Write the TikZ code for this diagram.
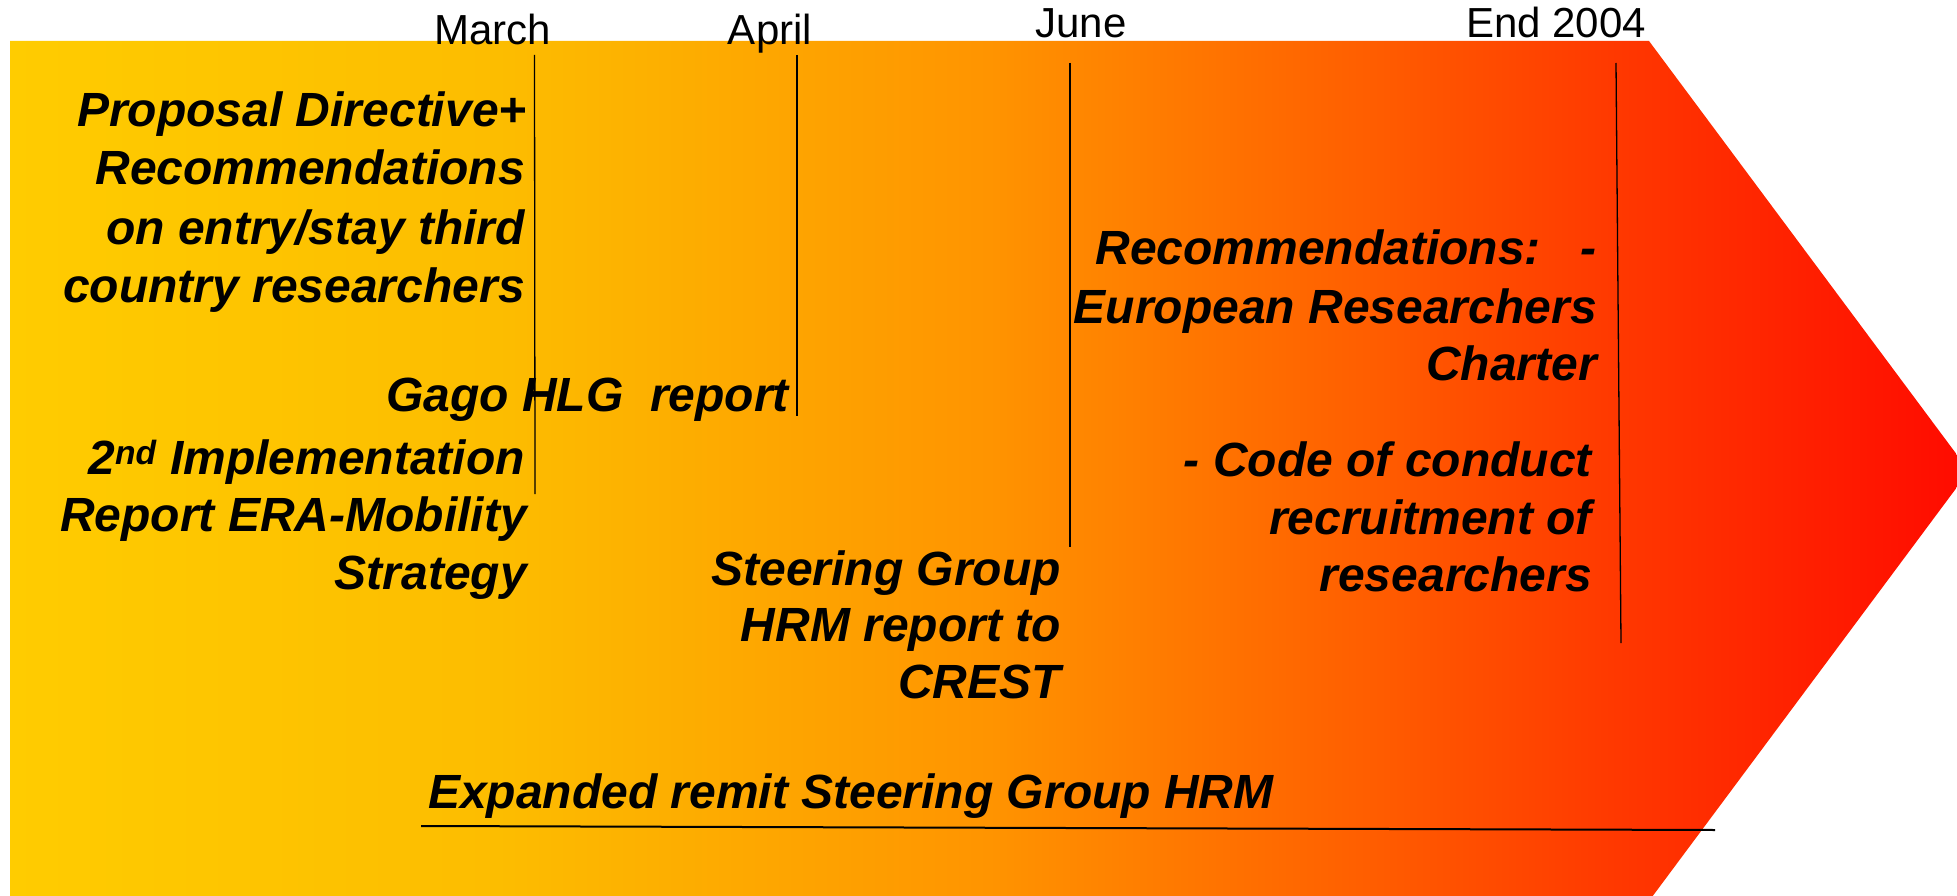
\documentclass[tikz,border=0pt]{standalone}
\usepackage{fontspec}
\setmainfont{Liberation Sans}
\pgfdeclarehorizontalshading{arrowshade}{100bp}{
 rgb(0bp)=(1,0.80,0);
 rgb(25bp)=(1,0.80,0);
 rgb(37.5bp)=(0.99,0.74,0);
 rgb(50bp)=(1,0.58,0);
 rgb(60bp)=(1,0.36,0);
 rgb(66bp)=(1,0.22,0);
 rgb(75bp)=(1,0.04,0);
 rgb(100bp)=(1,0.04,0)}
\tikzset{
 lbl/.style={font={\fontsize{48}{58}\selectfont\bfseries\itshape}, inner sep=0pt, anchor=base east},
 lblw/.style={font={\fontsize{48}{58}\selectfont\bfseries\itshape}, inner sep=0pt, anchor=base west},
 mon/.style={font={\fontsize{42}{50}\selectfont}, inner sep=0pt, anchor=base},
 tick/.style={line width=1.3pt, black},
 remit/.style={line width=2pt, black},
}
\begin{document}
\begin{tikzpicture}[x=1pt,y=-1pt]
\useasboundingbox (0,0) rectangle (1957,896);
\clip (0,0) rectangle (1957,896);
% arrow background
\shade[shading=arrowshade] (10,41) -- (1649,41) -- (1969,471) -- (1649,901) -- (10,901) -- cycle;

% month labels
\node[mon] (march) at (493,45) {March};
\node[mon] (april) at (770,45) {April};
\node[mon] (june) at (1081,38) {June};
\node[mon] (end) at (1556,38) {End 2004};

% tick lines
\coordinate (mT) at (534.5,55);  \coordinate (mB) at (535,494);
\coordinate (aT) at (797,55);    \coordinate (aB) at (797,416);
\coordinate (jT) at (1070,63);   \coordinate (jB) at (1070,547);
\coordinate (eT) at (1616,63);   \coordinate (eB) at (1621,643);
\draw[tick] (mT) -- (mB);
\draw[tick] (aT) -- (aB);
\draw[tick] (jT) -- (jB);
\draw[tick] (eT) -- (eB);

% block A
\node[lbl] (a1) at (527,127) {Proposal Directive+};
\node[lbl] (a2) at (525,185) {Recommendations};
\node[lbl] (a3) at (525,244) {on entry/stay third};
\node[lbl] (a4) at (525,302) {country researchers};

% Gago
\node[lbl] (g1) at (789,411) {Gago HLG\ \ report};

% block C
\node[lbl] (c1) at (525,474) {2\textsuperscript{nd} Implementation};
\node[lbl] (c2) at (527,531) {Report ERA-Mobility};
\node[lbl] (c3) at (527,589) {Strategy};

% block D
\node[lbl] (d1) at (1061,585) {Steering Group};
\node[lbl] (d2) at (1061,641) {HRM report to};
\node[lbl] (d3) at (1061,698) {CREST};

% block E
\node[lbl] (e1) at (1597,264) {Recommendations:\ \ \ -};
\node[lbl] (e2) at (1597,323) {European Researchers};
\node[lbl] (e3) at (1597,380) {Charter};

% block F
\node[lbl] (f1) at (1592,476) {- Code of conduct};
\node[lbl] (f2) at (1592,534) {recruitment of};
\node[lbl] (f3) at (1592,591) {researchers};

% bottom
\node[lblw] (x1) at (428,808) {Expanded remit Steering Group HRM};
\coordinate (rL) at (421,826);
\coordinate (rR) at (1715,830);
\draw[remit] (rL) -- (rR);
\end{tikzpicture}
\end{document}
